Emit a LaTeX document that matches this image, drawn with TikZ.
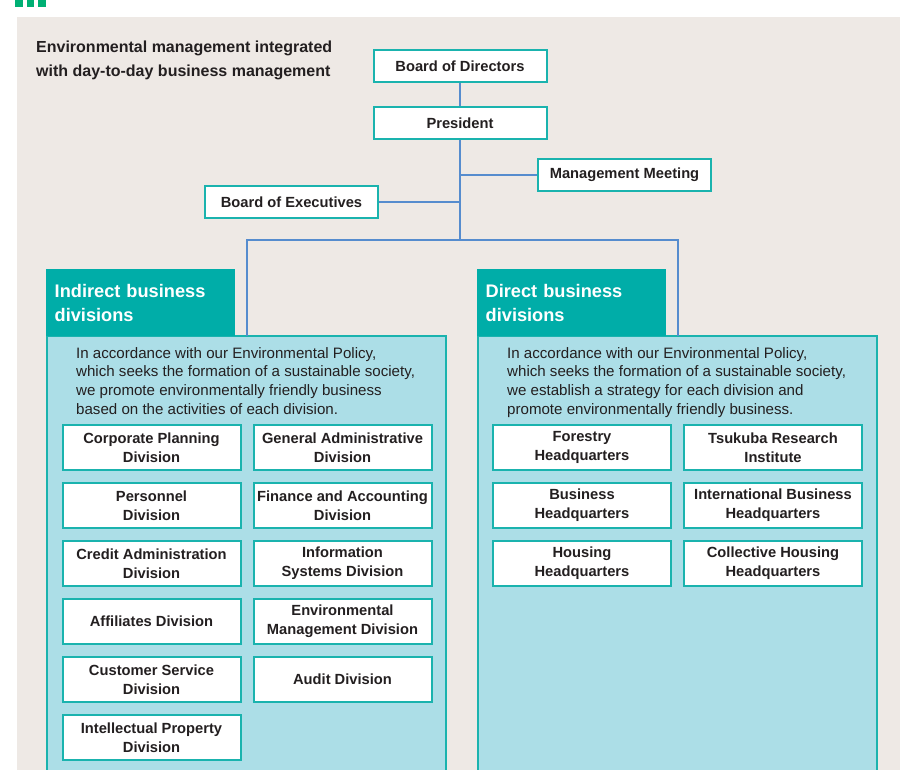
\documentclass[tikz,border=0pt]{standalone}
\usepackage{fontspec}
\setmainfont{Liberation Sans}
\usetikzlibrary{positioning}

\definecolor{panelbg}{RGB}{238,233,229}
\definecolor{tealline}{RGB}{26,179,174}
\definecolor{tealfill}{RGB}{0,173,168}
\definecolor{paleblue}{RGB}{172,222,231}
\definecolor{linkblue}{RGB}{86,140,206}
\definecolor{markgreen}{RGB}{0,176,116}
\definecolor{inktext}{RGB}{35,31,32}

\begin{document}
\begin{tikzpicture}[x=1pt, y=-1pt, node distance=11pt,
  unit/.style = {draw=tealline, line width=2pt, fill=white, text=inktext, minimum width=178pt, minimum height=45pt, inner sep=0pt, align=center, font=\bfseries\fontsize{14.7}{19}\selectfont},
  boss/.style = {unit, minimum width=173pt, minimum height=32pt},
  head/.style = {fill=tealfill, text=white, anchor=north west, minimum width=189pt, minimum height=67pt, text width=172pt, inner xsep=8.5pt, inner ysep=0pt, align=left, font=\bfseries\fontsize{18.2}{24}\selectfont},
  panel/.style = {draw=tealline, line width=2pt, fill=paleblue, anchor=north west, minimum width=399pt, minimum height=460pt},
  note/.style = {anchor=north west, inner sep=0pt, align=left, text=inktext, font=\fontsize{15.1}{18.7}\selectfont},
  intro/.style = {anchor=north west, inner sep=0pt, align=left, text=inktext, font=\bfseries\fontsize{16}{24}\selectfont},
  link/.style = {draw=linkblue, line width=2.5pt}]
        \useasboundingbox (0,0) rectangle (900,770);
        \clip (0,0) rectangle (900,770);
        \fill[panelbg] (17,17) rectangle (905,775);
        \foreach \x in {15,26.5,38}
            \fill[markgreen] (\x,-2) rectangle (\x+7.5,7);

        % top of the chart
        \node[intro] (lead) at (36,41) {Environmental management integrated\\with day-to-day business management};
        \node[boss] (bod) at (460,66) {Board of Directors};
        \node[boss] (pres) [below=23pt of bod] {President};
        \node[boss] (mm) at (624.5,175) {Management Meeting};
        \node[boss] (boe) at (291.5,202) {Board of Executives};
        \coordinate (split) at (460,240);
        \coordinate (ldrop) at (247,336);
        \coordinate (rdrop) at (678,336);

        % indirect side
        \node[panel] (lpanel) at (46,335) {};
        \node[head] (lhead) at (46,269) {Indirect business\\divisions};
        \node[note] (lnote) at (76,347) {In accordance with our Environmental Policy,\\which seeks the formation of a sustainable society,\\we promote environmentally friendly business\\based on the activities of each division.};
        \node[unit] (corp) at (151.5,447.5) {Corporate Planning\\Division};
        \node[unit] (gen) [right=of corp] {General Administrative\\Division};
        \node[unit] (pers) [below=of corp] {Personnel\\Division};
        \node[unit] (fin) [below=of gen] {Finance and Accounting\\Division};
        \node[unit] (cred) [below=of pers] {Credit Administration\\Division};
        \node[unit] (info) [below=of fin] {Information\\Systems Division};
        \node[unit] (affil) [below=of cred] {Affiliates Division};
        \node[unit] (env) [below=of info] {Environmental\\Management Division};
        \node[unit] (cust) [below=of affil] {Customer Service\\Division};
        \node[unit] (audit) [below=of env] {Audit Division};
        \node[unit] (ip) [below=of cust] {Intellectual Property\\Division};

        % direct side
        \node[panel] (rpanel) at (477,335) {};
        \node[head] (rhead) at (477,269) {Direct business\\divisions};
        \node[note] (rnote) at (507,347) {In accordance with our Environmental Policy,\\which seeks the formation of a sustainable society,\\we establish a strategy for each division and\\promote environmentally friendly business.};
        \node[unit] (forest) at (582,447.5) {Forestry\\Headquarters};
        \node[unit] (tsukuba) [right=of forest] {Tsukuba Research\\Institute};
        \node[unit] (busi) [below=of forest] {Business\\Headquarters};
        \node[unit] (intl) [below=of tsukuba] {International Business\\Headquarters};
        \node[unit] (housing) [below=of busi] {Housing\\Headquarters};
        \node[unit] (coll) [below=of intl] {Collective Housing\\Headquarters};

        \draw[link] (bod) -- (pres);
        \draw[link] (pres) -- (split);
        \draw[link] (mm) -- (mm -| split);
        \draw[link] (boe) -- (boe -| split);
        \draw[link] (ldrop) |- (split) -| (rdrop);
\end{tikzpicture}
\end{document}
